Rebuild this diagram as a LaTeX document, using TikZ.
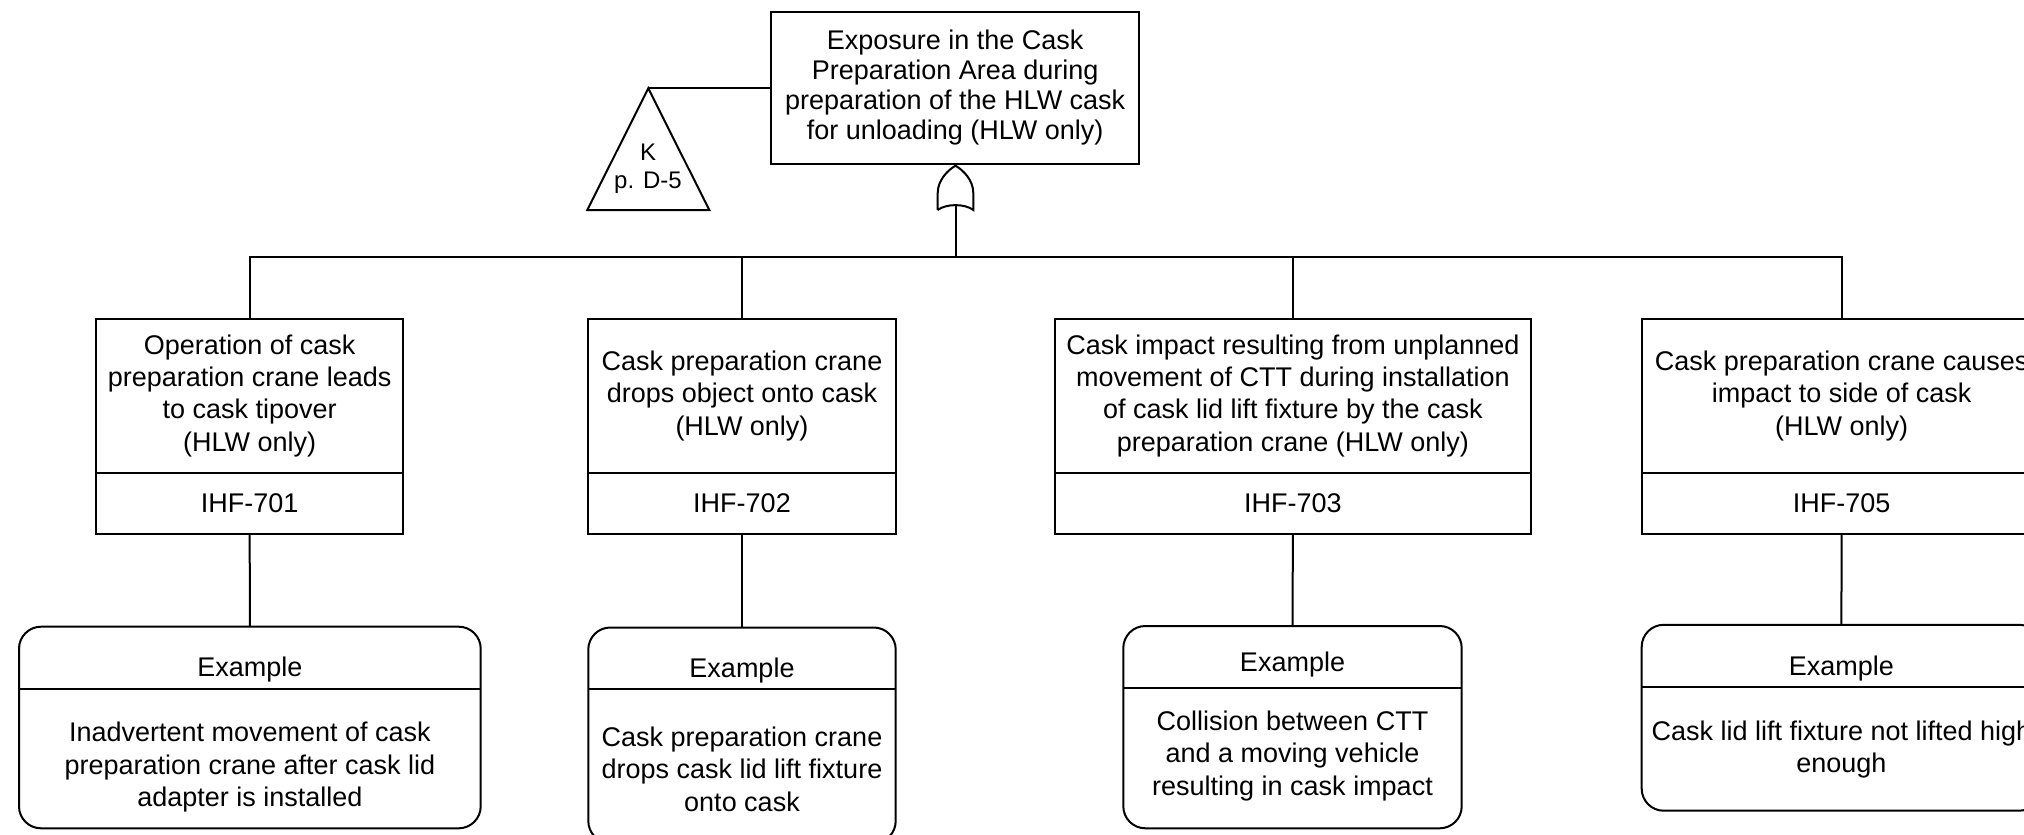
\documentclass[tikz,border=0pt]{standalone}
\usepackage{fontspec}
\setmainfont{Liberation Sans}
\begin{document}
\begin{tikzpicture}[x=0.5pt,y=-0.5pt,line width=1pt,
  every node/.style={inner sep=0pt,outer sep=0pt,align=center},
  txt/.style={font=\fontsize{13.5}{16.25}\selectfont},
  toptxt/.style={font=\fontsize{13.5}{15}\selectfont},
  evtxt/.style={font=\fontsize{13.5}{16.2}\selectfont},
  evbox/.style={draw,rectangle,evtxt,minimum width=#1,minimum height=76.75pt},
  idbox/.style={draw,rectangle,txt,minimum width=#1,minimum height=30.75pt},
  exbox/.style={draw,rectangle,rounded corners=11pt},
]
\useasboundingbox (0,0) rectangle (2024,835);
\clip (0,0) rectangle (2024,835);

% top event
\node[draw,rectangle,toptxt,minimum width=184.15pt,minimum height=76.3pt]
  (top) at (955.2,88) {Exposure in the Cask\\Preparation Area during\\preparation of the HLW cask\\for unloading (HLW only)};

% transfer triangle
\coordinate (kapex) at (648.3,88.3);
\draw (kapex) -- (587.3,210) -- (709.3,210) -- cycle;
\node[font=\fontsize{12}{14}\selectfont] (ktri) at (648,169) {K\\p. D-5};
\draw (kapex) -- (kapex -| top.west);

% OR gate
\coordinate (gatetop) at (955.5,165.7);
\coordinate (gatebot) at (955.5,205.5);
\draw (937.7,210) -- (937.7,193)
  .. controls (937.7,180) and (948,170) .. (gatetop)
  .. controls (963,170) and (973.3,180) .. (973.3,193)
  -- (973.3,210)
  .. controls (965,203.5) and (946,203.5) .. (937.7,210);
\coordinate (bus) at (955.5,257);
\draw (gatebot) -- (bus);

% intermediate events
\node[evbox=153.65pt] (c1) at (249.7,395.75) {Operation of cask\\preparation crane leads\\to cask tipover\\(HLW only)};
\node[idbox=153.65pt,anchor=north] (c1id) at (c1.south) {IHF-701};
\node[evbox=153.7pt] (c2) at (742,395.75) {Cask preparation crane\\drops object onto cask\\(HLW only)};
\node[idbox=153.7pt,anchor=north] (c2id) at (c2.south) {IHF-702};
\node[evbox=237.85pt] (c3) at (1292.9,395.75) {Cask impact resulting from unplanned\\movement of CTT during installation\\of cask lid lift fixture by the cask\\preparation crane (HLW only)};
\node[idbox=237.85pt,anchor=north] (c3id) at (c3.south) {IHF-703};
\node[evbox=199.5pt] (c4) at (1841.7,395.75) {Cask preparation crane causes\\impact to side of cask\\(HLW only)};
\node[idbox=199.5pt,anchor=north] (c4id) at (c4.south) {IHF-705};

\draw (bus) -| (c1.north);
\draw (bus) -| (c2.north);
\draw (bus) -| (c3.north);
\draw (bus) -| (c4.north);

% example boxes
\node[exbox,minimum width=230.85pt,minimum height=100.8pt] (e1) at (249.85,727.5) {};
\node[exbox,minimum width=153.7pt,minimum height=107.75pt] (e2) at (742,735.25) {};
\node[exbox,minimum width=169.2pt,minimum height=101.15pt] (e3) at (1292.5,727.15) {};
\node[exbox,minimum width=199.65pt,minimum height=92.95pt] (e4) at (1841.35,717.75) {};

\draw ([yshift=-31.15pt]e1.north west) -- ([yshift=-31.15pt]e1.north east);
\draw ([yshift=-30.7pt]e2.north west) -- ([yshift=-30.7pt]e2.north east);
\draw ([yshift=-31.15pt]e3.north west) -- ([yshift=-31.15pt]e3.north east);
\draw ([yshift=-31.2pt]e4.north west) -- ([yshift=-31.2pt]e4.north east);

\node[txt] (e1h) at (249.85,670) {Example};
\node[txt] (e2h) at (742,670.2) {Example};
\node[txt] (e3h) at (1292.5,665) {Example};
\node[txt] (e4h) at (1841.35,668.5) {Example};

\node[txt] (e1b) at (249.85,767.3) {Inadvertent movement of cask\\preparation crane after cask lid\\adapter is installed};
\node[txt] (e2b) at (742,769.1) {Cask preparation crane\\drops cask lid lift fixture\\onto cask};
\node[txt] (e3b) at (1292.5,756) {Collision between CTT\\and a moving vehicle\\resulting in cask impact};
\node[txt] (e4b) at (1841.35,749.5) {Cask lid lift fixture not lifted high\\enough};

\draw (c1id.south) -- (e1.north);
\draw (c2id.south) -- (e2.north);
\draw (c3id.south) -- (e3.north);
\draw (c4id.south) -- (e4.north);
\end{tikzpicture}
\end{document}
